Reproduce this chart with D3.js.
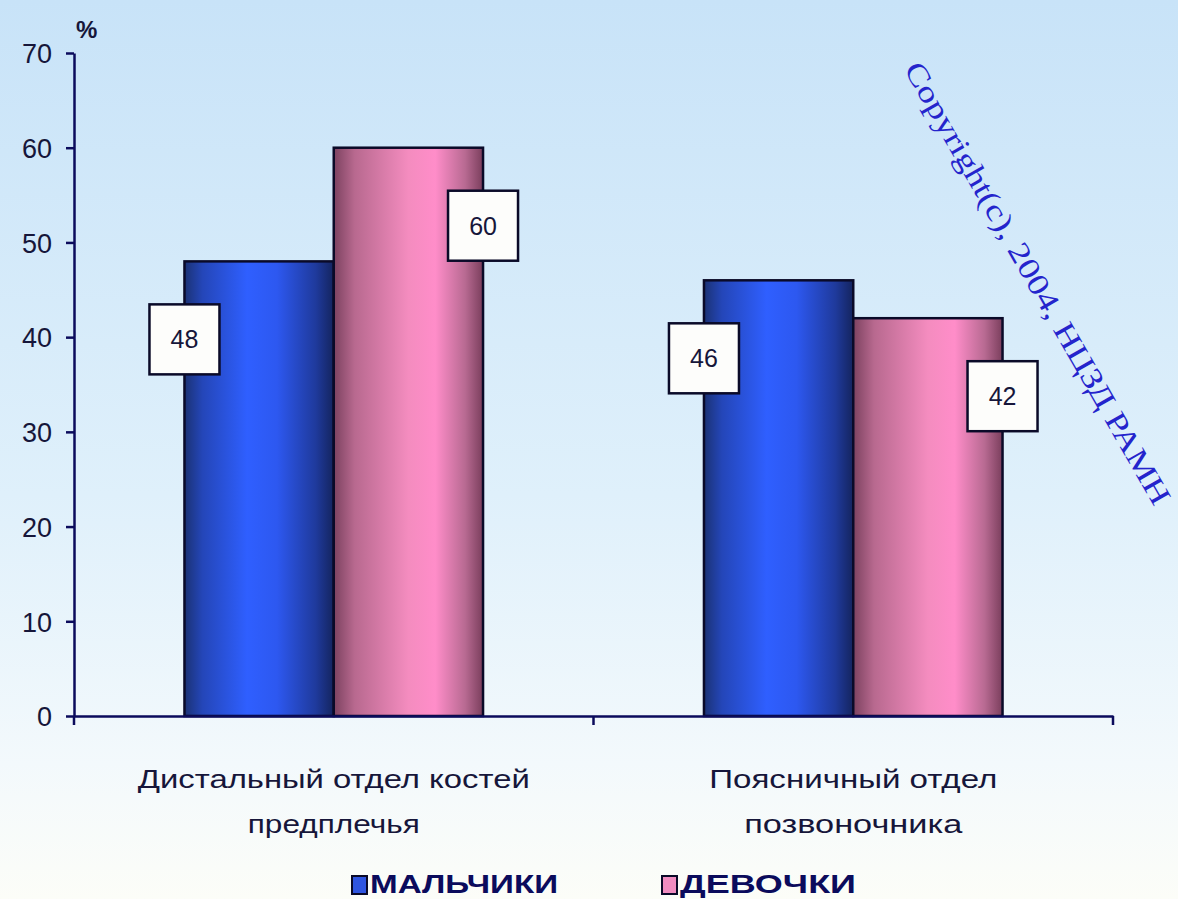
<!DOCTYPE html>
<html>
<head>
<meta charset="utf-8">
<script src="https://cdn.jsdelivr.net/npm/d3@7"></script>
<style>
  html, body { margin: 0; padding: 0; background: #fff; }
  svg { display: block; }
</style>
</head>
<body>
<svg id="chart" width="1178" height="899"></svg>
<script>
// Chart data
const categories = [
  ["Дистальный отдел костей", "предплечья"],
  ["Поясничный отдел", "позвоночника"]
];
const seriesNames = ["МАЛЬЧИКИ", "ДЕВОЧКИ"];
const boysValues = [48, 46];
const girlsValues = [60, 42];
const yTicks = [0, 10, 20, 30, 40, 50, 60, 70];
const yUnit = "%";
const copyrightText = "Copyright(c), 2004, НЦЗД РАМН";

const W = 1178, H = 899;
const margin = { left: 74, right: 65, top: 53, bottom: 183 };
const svg = d3.select("#chart");
const defs = svg.append("defs");

// Background: pale blue fading to near white
const bg = defs.append("linearGradient").attr("id", "bg").attr("x1", 0).attr("y1", 0).attr("x2", 0).attr("y2", 1);
bg.append("stop").attr("offset", "0").attr("stop-color", "#c8e3f8");
bg.append("stop").attr("offset", "0.55").attr("stop-color", "#dff0fb");
bg.append("stop").attr("offset", "0.85").attr("stop-color", "#f3f9fc");
bg.append("stop").attr("offset", "1").attr("stop-color", "#fcfdf8");
svg.append("rect").attr("width", W).attr("height", H).attr("fill", "url(#bg)");

// Cylinder-like shading for the bars
function barGradient(id, stops) {
  const g = defs.append("linearGradient").attr("id", id).attr("x1", 0).attr("y1", 0).attr("x2", 1).attr("y2", 0);
  stops.forEach(([o, c]) => g.append("stop").attr("offset", o).attr("stop-color", c));
}
barGradient("gBoys", [[0, "#1b3274"], [0.12, "#2446b8"], [0.42, "#2f5fff"], [0.62, "#2d58f0"], [0.88, "#1f3a9c"], [1, "#14245e"]]);
barGradient("gGirls", [[0, "#7c4260"], [0.14, "#b8698f"], [0.5, "#f48cbf"], [0.68, "#ff8dc9"], [0.88, "#b86a92"], [1, "#7a3e5c"]]);

const series = [
  { name: seriesNames[0], values: boysValues, fill: "url(#gBoys)", swatch: "#2f55e0" },
  { name: seriesNames[1], values: girlsValues, fill: "url(#gGirls)", swatch: "#f08cc0" }
];

const x0 = d3.scaleBand().domain(d3.range(categories.length))
  .range([margin.left, W - margin.right]).padding(0);
const x1 = d3.scaleBand().domain(d3.range(series.length))
  .range([0, x0.bandwidth()]).paddingInner(0).paddingOuter(0.74);
const y = d3.scaleLinear().domain([0, 70]).range([H - margin.bottom, margin.top]);

const axisColor = "#0b0b5c";
const textColor = "#16163a";

// Y axis
const yAxis = svg.append("g")
  .attr("transform", `translate(${margin.left},0)`)
  .call(d3.axisLeft(y).tickValues(yTicks).tickSize(8).tickSizeOuter(0).tickPadding(14));
yAxis.select(".domain").attr("stroke", axisColor).attr("stroke-width", 2.5);
yAxis.selectAll(".tick line").attr("stroke", axisColor).attr("stroke-width", 2.5);
yAxis.selectAll(".tick text")
  .attr("fill", textColor).attr("font-family", "Liberation Sans, Arial, sans-serif")
  .attr("font-size", 27).attr("dy", "0.36em");

svg.append("text").attr("x", 76).attr("y", 38)
  .attr("fill", textColor).attr("font-family", "Liberation Sans, Arial, sans-serif")
  .attr("font-size", 24).attr("font-weight", "bold").text(yUnit);

// Bars
const groups = svg.append("g").selectAll("g")
  .data(categories.map((c, i) => i))
  .join("g")
  .attr("transform", i => `translate(${x0(i)},0)`);

groups.selectAll("rect")
  .data(i => series.map((s, k) => ({ k, v: s.values[i], fill: s.fill })))
  .join("rect")
  .attr("x", d => x1(d.k))
  .attr("y", d => y(d.v))
  .attr("width", x1.bandwidth())
  .attr("height", d => y(0) - y(d.v))
  .attr("fill", d => d.fill)
  .attr("stroke", "#0a0a28")
  .attr("stroke-width", 2.5);

// X axis (baseline with ticks at category boundaries)
const xAxis = svg.append("g").attr("transform", `translate(0,${y(0)})`)
  .call(d3.axisBottom(x0).tickValues([]).tickSizeOuter(0));
xAxis.select(".domain").attr("stroke", axisColor).attr("stroke-width", 2.5);
const bounds = d3.range(categories.length).map(i => x0(i)).concat([x0(categories.length - 1) + x0.bandwidth()]);
xAxis.selectAll("line.bound").data(bounds).join("line").attr("class", "bound")
  .attr("x1", d => d).attr("x2", d => d).attr("y1", 0).attr("y2", 9)
  .attr("stroke", axisColor).attr("stroke-width", 2.5);

// Category labels
const catLabelWidths = [[392, 172], [288, 218]];
groups.each(function (i) {
  const g = d3.select(this);
  categories[i].forEach((line, j) => {
    g.append("text")
      .attr("x", x0.bandwidth() / 2)
      .attr("y", y(0) + 72 + j * 45)
      .attr("text-anchor", "middle")
      .attr("fill", textColor)
      .attr("font-family", "Liberation Sans, Arial, sans-serif")
      .attr("font-size", 25)
      .attr("textLength", catLabelWidths[i][j])
      .attr("lengthAdjust", "spacingAndGlyphs")
      .text(line);
  });
});

// Value labels in boxes: boys at the bar's left edge, girls at its right edge
const boxW = 70, boxH = 70;
groups.each(function (i) {
  const g = d3.select(this);
  series.forEach((s, k) => {
    const v = s.values[i];
    const cx = k === 0 ? x1(k) : x1(k) + x1.bandwidth();
    const cy = y(v) + 78;
    g.append("rect")
      .attr("x", cx - boxW / 2).attr("y", cy - boxH / 2)
      .attr("width", boxW).attr("height", boxH)
      .attr("fill", "#fdfdfb").attr("stroke", "#0a0a28").attr("stroke-width", 2.5);
    g.append("text")
      .attr("x", cx).attr("y", cy).attr("dy", "0.36em")
      .attr("text-anchor", "middle")
      .attr("fill", textColor)
      .attr("font-family", "Liberation Sans, Arial, sans-serif")
      .attr("font-size", 25)
      .text(v);
  });
});

// Legend
const legend = svg.append("g");
const legendItems = [
  { x: 352, tw: 188 },
  { x: 662, tw: 176 }
];
series.forEach((s, k) => {
  const it = legendItems[k];
  legend.append("rect")
    .attr("x", it.x).attr("y", 876).attr("width", 15).attr("height", 18)
    .attr("fill", s.swatch).attr("stroke", "#0a0a28").attr("stroke-width", 2);
  legend.append("text")
    .attr("x", it.x + 18).attr("y", 893)
    .attr("fill", "#0b0b5c")
    .attr("font-family", "Liberation Sans, Arial, sans-serif")
    .attr("font-weight", "bold")
    .attr("font-size", 25)
    .attr("textLength", it.tw)
    .attr("lengthAdjust", "spacingAndGlyphs")
    .text(s.name);
});

// Diagonal copyright note
svg.append("text")
  .attr("transform", "translate(1038,283) rotate(60.2)")
  .attr("text-anchor", "middle")
  .attr("dy", "0.35em")
  .attr("fill", "#2424cc")
  .attr("font-family", "Liberation Serif, Times New Roman, serif")
  .attr("font-size", 30)
  .attr("textLength", 505)
  .attr("lengthAdjust", "spacingAndGlyphs")
  .text(copyrightText);
</script>
</body>
</html>
